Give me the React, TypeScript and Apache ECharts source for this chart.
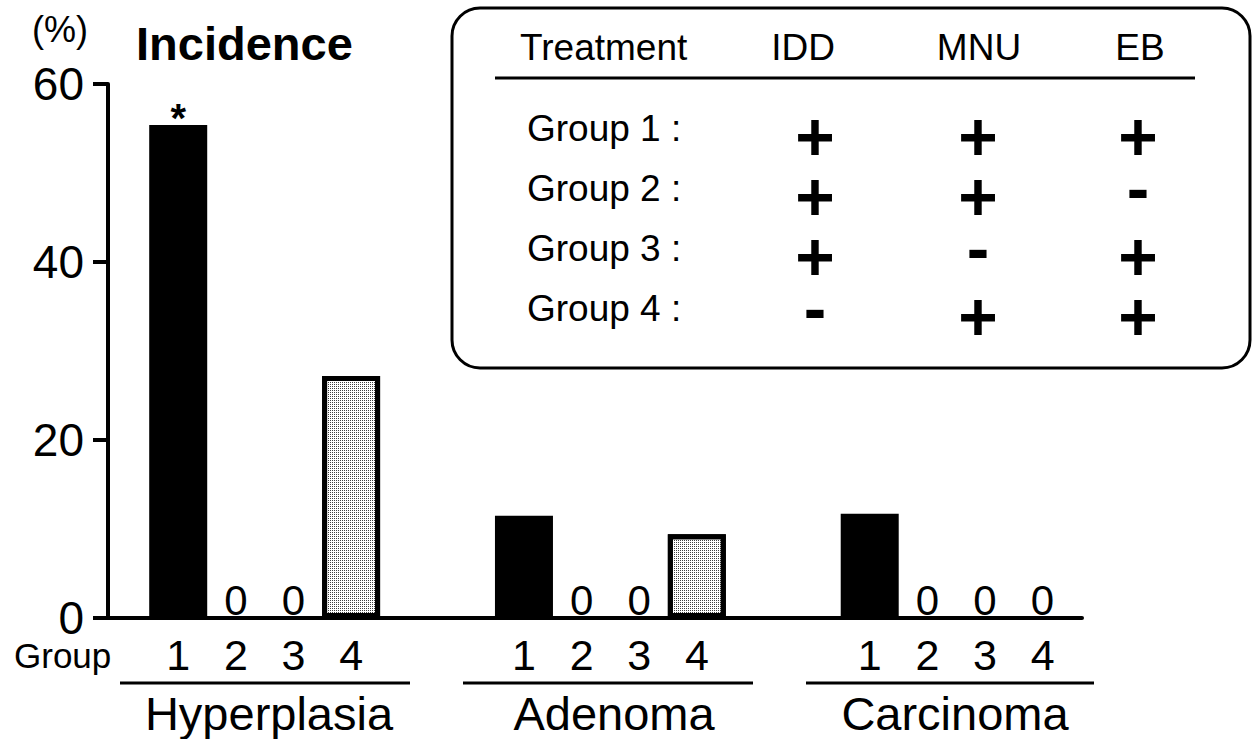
import React, { useEffect, useRef } from "react";
import * as echarts from "echarts";

// ---- data ----
const diseases = ["Hyperplasia", "Adenoma", "Carcinoma"];
const groups = ["1", "2", "3", "4"];
const hyperplasia = [55.4, 0, 0, 27.2];
const adenoma = [11.5, 0, 0, 9.4];
const carcinoma = [11.7, 0, 0, 0];
const significance = [
  ["*", "", "", ""],
  ["", "", "", ""],
  ["", "", "", ""],
];
const yTicks = [0, 20, 40, 60];
const treatments = ["IDD", "MNU", "EB"];
const groupRows = ["Group 1 :", "Group 2 :", "Group 3 :", "Group 4 :"];
const treatmentMatrix = [
  ["+", "+", "+"],
  ["+", "+", "-"],
  ["+", "-", "+"],
  ["-", "+", "+"],
];

const FONT = "'Liberation Sans', Arial, Helvetica, sans-serif";
const GAP_SLOTS = 2;

export default function App() {
  const ref = useRef<HTMLDivElement>(null);

  useEffect(() => {
    if (!ref.current) return;
    const chart = echarts.init(ref.current, undefined, { renderer: "svg" });

    const valuesByDisease = [hyperplasia, adenoma, carcinoma];
    const categories: string[] = [];
    const barData: any[] = [];
    valuesByDisease.forEach((vals, d) => {
      vals.forEach((v, g) => {
        categories.push(groups[g]);
        const mark = significance[d][g];
        const item: any = { value: v };
        if (v === 0) {
          item.itemStyle = { borderWidth: 0, color: "#000" };
          item.label = {
            show: true,
            formatter: "0",
            position: "top",
            distance: 0,
            offset: [0, 3],
            fontSize: 42,
            color: "#000",
            fontFamily: FONT,
          };
        } else if (g === 0) {
          item.itemStyle = { color: "#000", borderColor: "#000", borderWidth: 5 };
        } else {
          item.itemStyle = {
            color: "#fff",
            borderColor: "#000",
            borderWidth: 5,
            decal: {
              symbol: "rect",
              symbolSize: 1,
              dashArrayX: [1, 1],
              dashArrayY: [1, 1],
              color: "rgba(0,0,0,0.75)",
            },
          };
        }
        if (mark) {
          item.label = {
            show: true,
            formatter: mark,
            position: "top",
            distance: 0,
            offset: [0, 13],
            fontSize: 40,
            fontWeight: "bold",
            color: "#000",
            fontFamily: FONT,
          };
        }
        barData.push(item);
      });
      if (d < valuesByDisease.length - 1) {
        for (let k = 0; k < GAP_SLOTS; k++) {
          categories.push("");
          barData.push("-");
        }
      }
    });

    const graphics: any[] = [];
    // titles
    graphics.push({
      type: "text",
      style: { x: 32, y: 29, text: "(%)", fontSize: 36, fontFamily: FONT, fill: "#000", textAlign: "left", textVerticalAlign: "middle" },
    });
    graphics.push({
      type: "text",
      style: { x: 136, y: 43, text: "Incidence", fontSize: 47, fontWeight: "bold", fontFamily: FONT, fill: "#000", textAlign: "left", textVerticalAlign: "middle" },
    });
    graphics.push({
      type: "text",
      style: { x: 14, y: 655, text: "Group", fontSize: 35, lineHeight: 30, fontFamily: FONT, fill: "#000", textAlign: "left", textVerticalAlign: "middle" },
    });
    // disease labels and underlines
    const nameCenters = [269, 614, 955];
    const lineSpans = [
      [120, 410],
      [463, 753],
      [806, 1094],
    ];
    diseases.forEach((name, i) => {
      graphics.push({
        type: "line",
        shape: { x1: lineSpans[i][0], y1: 683, x2: lineSpans[i][1], y2: 683 },
        style: { stroke: "#000", lineWidth: 3 },
      });
      graphics.push({
        type: "text",
        style: { x: nameCenters[i], y: 713, text: name, fontSize: 47, fontFamily: FONT, fill: "#000", textAlign: "center", textVerticalAlign: "middle" },
      });
    });
    // legend box
    graphics.push({
      type: "rect",
      shape: { x: 452, y: 8, width: 798, height: 360, r: 28 },
      style: { fill: "none", stroke: "#000", lineWidth: 3 },
    });
    graphics.push({
      type: "text",
      style: { x: 520, y: 47, text: "Treatment", fontSize: 37, fontFamily: FONT, fill: "#000", textAlign: "left", textVerticalAlign: "middle" },
    });
    const colX = [803, 979, 1140];
    const signX = [815, 978, 1138];
    treatments.forEach((t, j) => {
      graphics.push({
        type: "text",
        style: { x: colX[j], y: 47, text: t, fontSize: 37, fontFamily: FONT, fill: "#000", textAlign: "center", textVerticalAlign: "middle" },
      });
    });
    graphics.push({
      type: "line",
      shape: { x1: 495, y1: 78, x2: 1195, y2: 78 },
      style: { stroke: "#000", lineWidth: 3 },
    });
    const rowY = [128, 188, 248, 308];
    const SIGN_SCALE = 1.3;
    groupRows.forEach((label, r) => {
      graphics.push({
        type: "text",
        style: { x: 527, y: rowY[r], text: label, fontSize: 37, fontFamily: FONT, fill: "#000", textAlign: "left", textVerticalAlign: "middle" },
      });
      treatmentMatrix[r].forEach((s, j) => {
        graphics.push({
          type: "text",
          x: signX[j],
          y: rowY[r] + (s === "+" ? 8 : 0),
          scaleX: SIGN_SCALE,
          scaleY: SIGN_SCALE,
          style: {
            x: 0,
            y: 0,
            text: s,
            fontSize: 52,
            lineHeight: 30,
            fontWeight: "bold",
            fontFamily: FONT,
            fill: "#000",
            textAlign: "center",
            textVerticalAlign: "middle",
          },
        });
      });
    });

    const option: any = {
      animation: false,
      backgroundColor: "#fff",
      textStyle: { fontFamily: FONT },
      grid: [
        { left: 149.4, width: 922, top: 84, height: 534 },
        { left: 108, width: 974, top: 84, height: 534 },
      ],
      xAxis: [
        {
          type: "category",
          gridIndex: 0,
          data: categories,
          axisLine: { show: false },
          axisTick: { show: false },
          axisLabel: { interval: 0, fontSize: 43, margin: 15, color: "#000", fontFamily: FONT },
        },
        {
          type: "value",
          gridIndex: 1,
          min: 0,
          max: 1,
          axisLine: { show: true, lineStyle: { color: "#000", width: 4 } },
          axisTick: { show: false },
          axisLabel: { show: false },
          splitLine: { show: false },
        },
      ],
      yAxis: [
        { type: "value", gridIndex: 0, min: 0, max: 60, show: false, splitLine: { show: false } },
        {
          type: "value",
          gridIndex: 1,
          min: yTicks[0],
          max: yTicks[yTicks.length - 1],
          interval: 20,
          axisLine: { show: true, lineStyle: { color: "#000", width: 4 } },
          axisTick: { show: true, length: 15, lineStyle: { color: "#000", width: 4 } },
          axisLabel: { fontSize: 46, lineHeight: 38, margin: 24, color: "#000", fontFamily: FONT },
          splitLine: { show: false },
        },
      ],
      series: [
        {
          type: "bar",
          xAxisIndex: 0,
          yAxisIndex: 0,
          data: barData,
          barWidth: 58,
          label: { show: false },
        },
      ],
      graphic: graphics,
    };

    chart.setOption(option);
    return () => chart.dispose();
  }, []);

  return (
    <div
      ref={ref}
      style={{ position: "fixed", left: 0, top: 0, width: 1257, height: 739, background: "#fff" }}
    />
  );
}
